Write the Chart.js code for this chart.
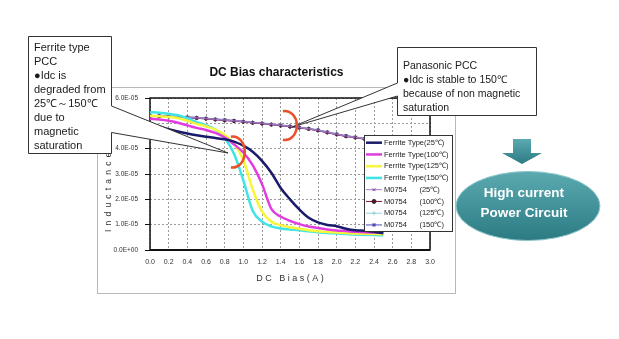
<!DOCTYPE html>
<html>
<head>
<meta charset="utf-8">
<script src="https://cdn.jsdelivr.net/npm/chart.js@4/dist/chart.umd.min.js"></script>
<style>
  body { margin:0; width:619px; height:339px; overflow:hidden; background:#fff; font-family:"Liberation Sans", Arial, sans-serif; position:relative; }
  .abs { position:absolute; }
  #frame { left:97px; top:87px; width:357px; height:205px; border:1.5px solid #b8b8b8; z-index:1; }
  #c { left:100px; top:60px; z-index:2; }
  #title { left:176px; top:65px; width:201px; text-align:center; font-weight:bold; font-size:12px; line-height:14px; color:#111; z-index:2; }
  #ylab { left:103px; top:232px; font-size:8.5px; line-height:10px; letter-spacing:4.2px; color:#333; transform-origin:0 0; transform:rotate(-90deg); white-space:nowrap; z-index:2; }
  svg { position:absolute; left:0; top:0; z-index:3; }
  .note { color:#1a1a1a; z-index:4; white-space:nowrap; }
  #ferNote { left:34px; top:39.5px; font-size:11px; line-height:14.1px; }
  #panNote { left:403px; top:58px; font-size:10.5px; line-height:14px; }
  #hc { left:454px; top:183px; width:140px; text-align:center; color:#fff; font-weight:bold; font-size:13.5px; line-height:20px; z-index:4; }
</style>
</head>
<body>
<div id="frame" class="abs"></div>
<canvas id="c" class="abs" width="360" height="235"></canvas>
<div id="title" class="abs">DC Bias characteristics</div>
<div id="ylab" class="abs">Inductance</div>

<svg width="619" height="339">
  <defs>
    <linearGradient id="teal" x1="0" y1="0" x2="0" y2="1">
      <stop offset="0" stop-color="#5aaab0"/>
      <stop offset="1" stop-color="#2c7b83"/>
    </linearGradient>
  </defs>
  <path d="M28.5,36.5 H111.5 V106 L228,153 L111.5,132.5 V153.5 H28.5 Z" fill="#fff" stroke="#333" stroke-width="1"/>
  <path d="M397.5,47.5 H536.5 V115.5 H397.5 V96 L292,127 L397.5,83 Z" fill="#fff" stroke="#333" stroke-width="1"/>
  <path d="M230.9,136.7 A12,15.5 0 1 1 230.9,167.3" fill="none" stroke="#e8512a" stroke-width="2.5"/>
  <path d="M282.9,111.2 A12,14.5 0 1 1 282.9,139.8" fill="none" stroke="#e8512a" stroke-width="2.5"/>
  <polygon points="513,139 531,139 531,153 542,153 522,164 502,153 513,153" fill="url(#teal)"/>
  <ellipse cx="528" cy="206" rx="72" ry="34.5" fill="url(#teal)" stroke="#8cc6ca" stroke-width="1"/>
</svg>

<div id="ferNote" class="abs note">Ferrite type<br>PCC<br>●Idc is<br>degraded from<br>25℃～150℃<br>due to<br>magnetic<br>saturation</div>
<div id="panNote" class="abs note">Panasonic PCC<br>●Idc is stable to 150℃<br>because of non magnetic<br>saturation</div>
<div id="hc" class="abs">High current<br>Power Circuit</div>

<script>
// DC bias current (A)
const biasA = [0,0.1,0.2,0.3,0.4,0.5,0.6,0.7,0.8,0.9,1.0,1.1,1.2,1.3,1.4,1.5,1.6,1.7,1.8,1.9,2.0,2.1,2.2,2.3,2.4,2.5];

// inductance, in units of 1E-05 H
const fer25  = [5.00,4.88,4.77,4.68,4.60,4.53,4.47,4.42,4.37,4.28,4.12,3.88,3.52,3.05,2.45,2.00,1.60,1.27,1.09,0.99,0.94,0.84,0.78,0.76,0.72,0.66];
const fer100 = [5.18,5.15,5.10,5.02,4.92,4.82,4.74,4.62,4.45,4.17,3.85,3.35,2.60,1.62,1.32,1.15,1.02,0.93,0.87,0.81,0.77,0.75,0.72,0.70,0.69,0.68];
const fer125 = [5.30,5.28,5.25,5.20,5.10,4.98,4.88,4.75,4.55,4.20,3.55,2.40,1.52,1.12,0.98,0.90,0.84,0.78,0.74,0.71,0.69,0.67,0.65,0.64,0.63,0.62];
const fer150 = [5.44,5.42,5.38,5.32,5.20,5.05,4.92,4.75,4.42,3.80,2.75,1.55,1.12,0.93,0.85,0.81,0.78,0.74,0.70,0.67,0.65,0.63,0.61,0.60,0.59,0.58];
const m25    = [5.30,5.29,5.28,5.26,5.24,5.22,5.19,5.16,5.13,5.10,5.07,5.03,5.00,4.96,4.92,4.88,4.84,4.79,4.73,4.65,4.57,4.50,4.45,4.39,4.33,4.27];
const m100   = [5.29,5.28,5.27,5.25,5.23,5.21,5.18,5.15,5.12,5.09,5.06,5.02,4.99,4.95,4.91,4.87,4.83,4.78,4.72,4.64,4.56,4.49,4.44,4.38,4.32,4.26];
const m125   = [5.31,5.30,5.29,5.27,5.25,5.23,5.20,5.17,5.14,5.11,5.08,5.04,5.01,4.97,4.93,4.89,4.85,4.80,4.74,4.66,4.58,4.51,4.46,4.40,4.34,4.28];
const m150   = [5.30,5.29,5.28,5.26,5.24,5.22,5.19,5.16,5.13,5.10,5.07,5.03,5.00,4.96,4.92,4.88,4.84,4.79,4.73,4.65,4.57,4.50,4.45,4.39,4.33,4.27];

const FONT = '"Liberation Sans", Arial, sans-serif';
const pts = arr => arr.map((v, i) => ({ x: biasA[i], y: v * 1e-5 }));

function sci(v) {
  if (Math.abs(v) < 1e-12) return '0.0E+00';
  const [m, e] = v.toExponential(1).split('e');
  const n = parseInt(e, 10);
  return m + 'E' + (n < 0 ? '-' : '+') + String(Math.abs(n)).padStart(2, '0');
}

const ferrite = (label, data, color) => ({
  label, data: pts(data), borderColor: color, backgroundColor: color,
  borderWidth: 2.5, pointRadius: 0, cubicInterpolationMode: 'monotone'
});
const m0754 = (label, data, color, mark, style, r) => ({
  label, data: pts(data), borderColor: color, backgroundColor: mark,
  borderWidth: 1.5, pointStyle: style, pointRadius: r,
  pointBorderColor: mark, pointBackgroundColor: mark, pointBorderWidth: 1
});

// plot frame on all four sides
const plotBox = {
  id: 'plotBox',
  beforeDatasetsDraw(chart) {
    const { ctx, chartArea: a } = chart;
    ctx.save();
    ctx.strokeStyle = '#111';
    ctx.lineWidth = 1.5;
    ctx.strokeRect(a.left, a.top, a.right - a.left, a.bottom - a.top);
    ctx.lineWidth = 2.2;
    ctx.beginPath(); ctx.moveTo(a.left, a.bottom); ctx.lineTo(a.right, a.bottom); ctx.stroke();
    ctx.restore();
  }
};

// boxed legend sitting inside the plot, over the lines
const boxLegend = {
  id: 'boxLegend',
  afterDraw(chart) {
    const ctx = chart.ctx;
    const x0 = 264, y0 = 75, w = 88, h = 96, rowH = 11.75;
    ctx.save();
    ctx.fillStyle = '#fff';
    ctx.fillRect(x0, y0, w, h);
    ctx.strokeStyle = '#333'; ctx.lineWidth = 1;
    ctx.strokeRect(x0 + 0.5, y0 + 0.5, w, h);
    ctx.font = '7.5px ' + FONT;
    ctx.textBaseline = 'middle';
    chart.data.datasets.forEach((ds, i) => {
      const y = y0 + 7.7 + i * rowH;
      ctx.strokeStyle = ds.borderColor;
      ctx.lineWidth = ds.pointRadius ? 1 : 2.5;
      ctx.beginPath(); ctx.moveTo(x0 + 2, y); ctx.lineTo(x0 + 18, y); ctx.stroke();
      if (ds.pointRadius && Chart.helpers && Chart.helpers.drawPoint) {
        ctx.strokeStyle = ds.pointBorderColor; ctx.fillStyle = ds.pointBackgroundColor;
        Chart.helpers.drawPoint(ctx, { pointStyle: ds.pointStyle, radius: 2, borderWidth: 1, rotation: 0 }, x0 + 10, y);
      }
      ctx.fillStyle = '#222';
      ctx.fillText(ds.label, x0 + 20, y);
    });
    ctx.restore();
  }
};

new Chart(document.getElementById('c'), {
  type: 'line',
  data: { datasets: [
    ferrite('Ferrite Type(25℃)',  fer25,  '#1b1b6b'),
    ferrite('Ferrite Type(100℃)', fer100, '#e03ce0'),
    ferrite('Ferrite Type(125℃)', fer125, '#f6f63a'),
    ferrite('Ferrite Type(150℃)', fer150, '#3fe4e6'),
    m0754('M0754      (25℃)',  m25,  '#a27ccc', '#7a4a8e', 'crossRot', 1.8),
    m0754('M0754      (100℃)', m100, '#7a1a2a', '#4a1830', 'circle', 1.6),
    m0754('M0754      (125℃)', m125, '#8fd4d4', '#8fd4d4', 'cross', 2),
    m0754('M0754      (150℃)', m150, '#4a4ab8', '#4a4ab8', 'star', 2)
  ]},
  options: {
    responsive: false, animation: false,
    layout: { padding: { top: 38, right: 30, left: 0, bottom: 0 } },
    plugins: { legend: { display: false }, tooltip: { enabled: false } },
    scales: {
      x: {
        type: 'linear', min: 0, max: 3,
        afterFit: s => { s.height = 45; },
        ticks: { stepSize: 0.2, autoSkip: false, maxRotation: 0, padding: 8, color: '#333',
                 font: { family: FONT, size: 7 }, callback: v => v.toFixed(1) },
        grid: { color: '#9a9a9a', lineWidth: 1, drawTicks: false },
        border: { display: false, dash: [2, 2] },
        title: { display: true, text: 'D C   B i a s ( A )', color: '#333',
                 font: { family: FONT, size: 9 }, padding: { top: 0, bottom: 10.6 } }
      },
      y: {
        min: 0, max: 6e-5,
        afterFit: s => { s.width = 50; },
        ticks: { stepSize: 1e-5, padding: 7, color: '#333',
                 font: { family: FONT, size: 6.5 }, callback: v => sci(v) },
        grid: { color: '#9a9a9a', lineWidth: 1, tickLength: 5, tickColor: '#111', tickBorderDash: [] },
        border: { display: false, dash: [2, 2] }
      }
    }
  },
  plugins: [plotBox, boxLegend]
});
</script>
</body>
</html>
